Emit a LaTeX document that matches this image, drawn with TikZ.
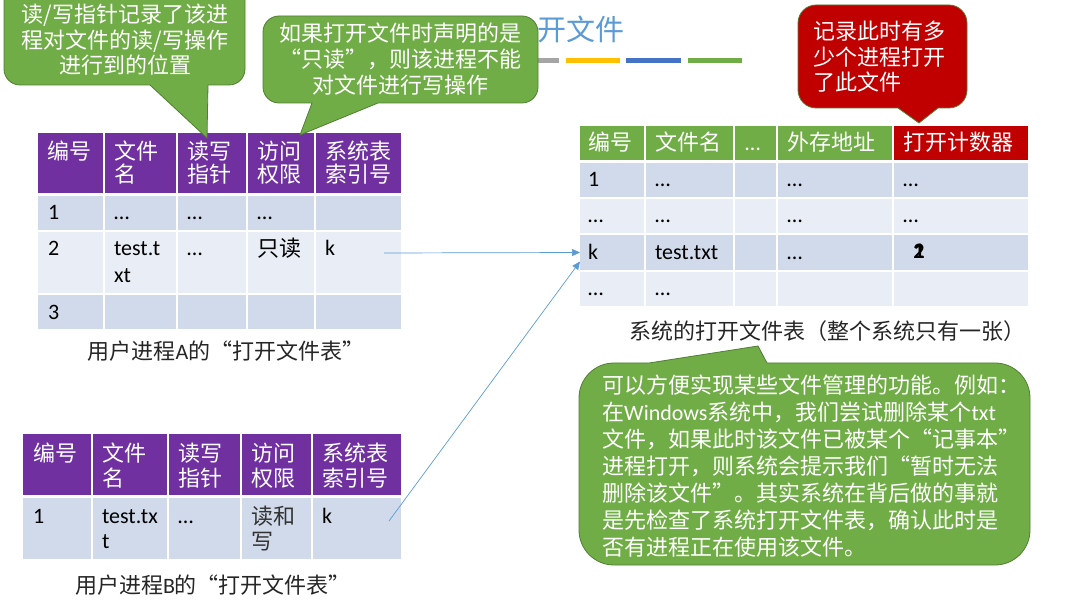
\documentclass[tikz,border=0pt]{standalone}
\usepackage{fontspec}
\setmainfont{Noto Sans CJK SC}
\newfontfamily\lat{Carlito}
\usetikzlibrary{arrows.meta}
\definecolor{hdrpurple}{HTML}{7030A0}
\definecolor{hdrgreen}{HTML}{70AD47}
\definecolor{hdrred}{HTML}{C00000}
\definecolor{rowdark}{HTML}{D0DAEA}
\definecolor{rowlight}{HTML}{E9EEF6}
\definecolor{callgreen}{HTML}{70AD47}
\definecolor{callred}{HTML}{C00000}
\definecolor{callline}{HTML}{507E32}
\definecolor{arrowblue}{HTML}{5B9BD5}
\definecolor{titleblue}{HTML}{5B9BD5}
\definecolor{bargray}{HTML}{A5A5A5}
\definecolor{baryellow}{HTML}{FFC000}
\definecolor{barblue}{HTML}{4472C4}
\definecolor{bargreen}{HTML}{70AD47}
\definecolor{captext}{HTML}{262626}
\newcommand\cellat[6]{\node[cellbox, fill=#6, minimum width=#4pt-#2pt, minimum height=#5pt-#3pt] (#1) at (#2,#3) {};}
\tikzset{
  cellbox/.style={draw=none, inner sep=0pt, outer sep=0pt, anchor=north west},
  txt/.style={inner sep=0pt, outer sep=0pt, anchor=base west, align=left, text=black, font=\fontsize{22}{27}\selectfont},
  txtB/.style={txt, font=\fontsize{22}{25}\selectfont},
  htxtA/.style={txt, text=white, font=\fontsize{22}{23}\selectfont},
  htxtB/.style={txt, text=white, font=\fontsize{22}{25}\selectfont},
  caption/.style={inner sep=0pt, anchor=base, text=captext, font=\fontsize{22}{26}\selectfont},
  calltxt/.style={inner sep=0pt, text=white, font=\fontsize{22}{25.5}\selectfont},
  callg/.style={fill=callgreen, draw=callline, line width=0.8pt},
  callr/.style={fill=callred, draw=callline, line width=0.8pt},
  conn/.style={draw=arrowblue, line width=0.7pt, -{Triangle[length=8pt,width=7pt]}},
}
\begin{document}
\begin{tikzpicture}[x=1pt,y=-1pt]
\useasboundingbox (0,0) rectangle (1082,601);
\clip (0,0) rectangle (1082,601);
\fill[white] (0,0) rectangle (1082,601);

% title and decorative bars
\node[inner sep=0pt, anchor=base west, text=titleblue, font=\fontsize{29}{32}\selectfont] (title) at (537,41) {开文件};
\fill[bargray]   (505,58) rectangle (559,63);
\fill[baryellow] (566,58) rectangle (620,63);
\fill[barblue]   (626,58) rectangle (681,63);
\fill[bargreen]  (688,58) rectangle (742,63);

% ---------------- Table A ----------------
\cellat{Ah1}{38}{133}{103}{193}{hdrpurple}
\cellat{Ah2}{105}{133}{176}{193}{hdrpurple}
\cellat{Ah3}{178}{133}{246}{193}{hdrpurple}
\cellat{Ah4}{248}{133}{314}{193}{hdrpurple}
\cellat{Ah5}{316}{133}{401}{193}{hdrpurple}
\cellat{A11}{38}{196}{103}{230}{rowdark}
\cellat{A12}{105}{196}{176}{230}{rowdark}
\cellat{A13}{178}{196}{246}{230}{rowdark}
\cellat{A14}{248}{196}{314}{230}{rowdark}
\cellat{A15}{316}{196}{401}{230}{rowdark}
\cellat{A21}{38}{232}{103}{293}{rowlight}
\cellat{A22}{105}{232}{176}{293}{rowlight}
\cellat{A23}{178}{232}{246}{293}{rowlight}
\cellat{A24}{248}{232}{314}{293}{rowlight}
\cellat{A25}{316}{232}{401}{293}{rowlight}
\cellat{A31}{38}{295}{103}{329}{rowdark}
\cellat{A32}{105}{295}{176}{329}{rowdark}
\cellat{A33}{178}{295}{246}{329}{rowdark}
\cellat{A34}{248}{295}{314}{329}{rowdark}
\cellat{A35}{316}{295}{401}{329}{rowdark}

% (multi-line nodes are anchored at the baseline of their last line)
\node[htxtA] (tAh1) at (47,160) {编号};
\node[htxtA] (tAh2) at (114,183) {文件\\名};
\node[htxtA] (tAh3) at (187,183) {读写\\指针};
\node[htxtA] (tAh4) at (257,183) {访问\\权限};
\node[htxtA] (tAh5) at (325,183) {系统表\\索引号};
\node[txt] (tA11) at (48,220) {\lat 1};
\node[txt] (tA12) at (114,220) {\lat …};
\node[txt] (tA13) at (187,220) {\lat …};
\node[txt] (tA14) at (257,220) {\lat …};
\node[txt] (tA21) at (48,256) {\lat 2};
\node[txt] (tA22) at (114,283) {\lat test.t\\\lat xt};
\node[txt] (tA23) at (187,256) {\lat …};
\node[txt] (tA24) at (257,257) {只读};
\node[txt] (tA25) at (325,256) {\lat k};
\node[txt] (tA31) at (48,320) {\lat 3};
\node[caption] (capA) at (226,360) {用户进程{\lat A}的“打开文件表”};

% ---------------- Table B ----------------
\cellat{Bh1}{23}{434}{91}{495}{hdrpurple}
\cellat{Bh2}{93}{434}{167}{495}{hdrpurple}
\cellat{Bh3}{169}{434}{240}{495}{hdrpurple}
\cellat{Bh4}{242}{434}{311}{495}{hdrpurple}
\cellat{Bh5}{313}{434}{401}{495}{hdrpurple}
\cellat{B11}{23}{498}{91}{559}{rowdark}
\cellat{B12}{93}{498}{167}{559}{rowdark}
\cellat{B13}{169}{498}{240}{559}{rowdark}
\cellat{B14}{242}{498}{311}{559}{rowdark}
\cellat{B15}{313}{498}{401}{559}{rowdark}

\node[htxtB] (tBh1) at (33,461) {编号};
\node[htxtB] (tBh2) at (102,486) {文件\\名};
\node[htxtB] (tBh3) at (178,486) {读写\\指针};
\node[htxtB] (tBh4) at (251,486) {访问\\权限};
\node[htxtB] (tBh5) at (322,486) {系统表\\索引号};
\node[txtB] (tB11) at (33,523) {\lat 1};
\node[txtB] (tB12) at (102,548) {\lat test.tx\\\lat t};
\node[txtB] (tB13) at (178,523) {\lat …};
\node[txtB, text=black!80] (tB14) at (251,549) {读和\\写};
\node[txtB] (tB15) at (322,523) {\lat k};
\node[caption] (capB) at (213,593) {用户进程{\lat B}的“打开文件表”};

% ---------------- System open-file table ----------------
\cellat{Rh1}{580}{126}{644}{160}{hdrgreen}
\cellat{Rh2}{646}{126}{733}{160}{hdrgreen}
\cellat{Rh3}{735}{126}{776}{160}{hdrgreen}
\cellat{Rh4}{778}{126}{892}{160}{hdrgreen}
\cellat{Rh5}{894}{126}{1028}{160}{hdrred}
\cellat{R11}{580}{163}{644}{197}{rowdark}
\cellat{R12}{646}{163}{733}{197}{rowdark}
\cellat{R13}{735}{163}{776}{197}{rowdark}
\cellat{R14}{778}{163}{892}{197}{rowdark}
\cellat{R15}{894}{163}{1028}{197}{rowdark}
\cellat{R21}{580}{199}{644}{233}{rowlight}
\cellat{R22}{646}{199}{733}{233}{rowlight}
\cellat{R23}{735}{199}{776}{233}{rowlight}
\cellat{R24}{778}{199}{892}{233}{rowlight}
\cellat{R25}{894}{199}{1028}{233}{rowlight}
\cellat{R31}{580}{235}{644}{270}{rowdark}
\cellat{R32}{646}{235}{733}{270}{rowdark}
\cellat{R33}{735}{235}{776}{270}{rowdark}
\cellat{R34}{778}{235}{892}{270}{rowdark}
\cellat{R35}{894}{235}{1028}{270}{rowdark}
\cellat{R41}{580}{272}{644}{306}{rowlight}
\cellat{R42}{646}{272}{733}{306}{rowlight}
\cellat{R43}{735}{272}{776}{306}{rowlight}
\cellat{R44}{778}{272}{892}{306}{rowlight}
\cellat{R45}{894}{272}{1028}{306}{rowlight}

\node[txt, text=white] (tRh1) at (588,151) {编号};
\node[txt, text=white] (tRh2) at (655,151) {文件名};
\node[txt, text=white] (tRh3) at (745,151) {\lat …};
\node[txt, text=white] (tRh4) at (787,151) {外存地址};
\node[txt, text=white] (tRh5) at (903,151) {打开计数器};
\node[txt] (tR11) at (588,187) {\lat 1};
\node[txt] (tR12) at (655,187) {\lat …};
\node[txt] (tR14) at (787,187) {\lat …};
\node[txt] (tR15) at (903,187) {\lat …};
\node[txt] (tR21) at (588,223) {\lat …};
\node[txt] (tR22) at (655,223) {\lat …};
\node[txt] (tR24) at (787,223) {\lat …};
\node[txt] (tR25) at (903,223) {\lat …};
\node[txt] (tR31) at (588,260) {\lat k};
\node[txt] (tR32) at (655,260) {\lat test.txt};
\node[txt] (tR34) at (787,260) {\lat …};
\node[txt, anchor=base] (tR35a) at (919,259) {\lat\bfseries 1};
\node[txt, anchor=base] (tR35b) at (919,259) {\lat\bfseries 2};
\node[txt] (tR41) at (588,296) {\lat …};
\node[txt] (tR42) at (655,296) {\lat …};
\node[caption] (capR) at (827,340) {系统的打开文件表（整个系统只有一张）};

% ---------------- connectors ----------------
\coordinate (srcA) at (384,253);
\coordinate (srcB) at (389,521);
\coordinate (dstB) at ([yshift=-9pt]R31.west);
\draw[conn] (srcA) -- (R31.west);
\draw[conn] (srcB) -- (dstB);

% ---------------- callouts ----------------
% callout 1
\draw[callg] (150,85) -- (20,85) arc[start angle=90, end angle=180, radius=16]
  -- (4,-14) arc[start angle=180, end angle=270, radius=16]
  -- (229,-30) arc[start angle=270, end angle=360, radius=16]
  -- (245,69) arc[start angle=0, end angle=90, radius=16]
  -- (208,85) -- (207,138) -- cycle;
\node[calltxt, anchor=base, align=center] (c1) at (125,74) {读/写指针记录了该进\\程对文件的读/写操作\\进行到的位置};

% callout 2
\draw[callg] (312,103) -- (279,103) arc[start angle=90, end angle=180, radius=16]
  -- (263,32) arc[start angle=180, end angle=270, radius=16]
  -- (522,16) arc[start angle=270, end angle=360, radius=16]
  -- (538,87) arc[start angle=0, end angle=90, radius=16]
  -- (378,103) -- (300,135) -- cycle;
\node[calltxt, anchor=base, align=center, font=\fontsize{22}{26}\selectfont] (c2) at (400,94) {如果打开文件时声明的是\\“只读”，则该进程不能\\对文件进行写操作};

% callout 3
\draw[callr] (898,108) -- (816,108) arc[start angle=90, end angle=180, radius=18]
  -- (798,23) arc[start angle=180, end angle=270, radius=18]
  -- (949,5) arc[start angle=270, end angle=360, radius=18]
  -- (967,90) arc[start angle=0, end angle=90, radius=18]
  -- (938,108) -- (919,123) -- cycle;
\node[calltxt, anchor=base west, align=left] (c3) at (813,91) {记录此时有多\\少个进程打开\\了此文件};

% callout 4
\draw[callg] (767,363) -- (995,363) arc[start angle=270, end angle=360, radius=35]
  -- (1030,530) arc[start angle=0, end angle=90, radius=35]
  -- (614,565) arc[start angle=90, end angle=180, radius=35]
  -- (579,398) arc[start angle=180, end angle=270, radius=35]
  -- (649,363) -- (758,346) -- cycle;
\node[calltxt, anchor=base west, align=left, font=\fontsize{22}{27}\selectfont] (c4) at (602,555) {可以方便实现某些文件管理的功能。例如：\\在{\lat Windows}系统中，我们尝试删除某个{\lat txt}\\文件，如果此时该文件已被某个“记事本”\\进程打开，则系统会提示我们“暂时无法\\删除该文件”。其实系统在背后做的事就\\是先检查了系统打开文件表，确认此时是\\否有进程正在使用该文件。};
\end{tikzpicture}
\end{document}
